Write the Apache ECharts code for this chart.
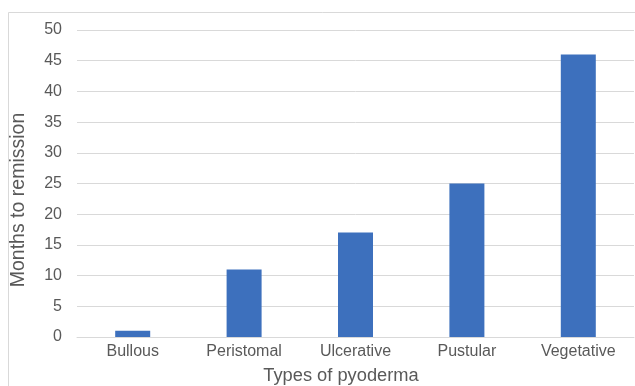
<!DOCTYPE html>
<html>
<head>
<meta charset="utf-8">
<script src="https://cdn.jsdelivr.net/npm/echarts@6/dist/echarts.min.js"></script>
<style>
  html, body { margin: 0; padding: 0; background: #fff; }
  #chart { width: 635px; height: 386px; }
</style>
</head>
<body>
<div id="chart"></div>
<script>
// Pyoderma gangrenosum subtypes and months until remission
const categories = ['Bullous', 'Peristomal', 'Ulcerative', 'Pustular', 'Vegetative'];
const monthsToRemission = [1, 11, 17, 25, 46];
const yTicks = { min: 0, max: 50, interval: 5 };
const xTitle = 'Types of pyoderma';
const yTitle = 'Months to remission';

const chart = echarts.init(document.getElementById('chart'), null, { renderer: 'canvas' });
const textColor = '#595959';
const font = 'Liberation Sans, Arial, sans-serif';

chart.setOption({
  animation: false,
  backgroundColor: '#fff',
  graphic: [
    {
      type: 'rect',
      shape: { x: 8.5, y: 12.5, width: 640, height: 400 },
      style: { fill: 'none', stroke: '#d9d9d9', lineWidth: 1 },
      silent: true
    },
    {
      type: 'text',
      x: 19, y: 200,
      rotation: Math.PI / 2,
      style: {
        text: yTitle, fill: textColor, fontSize: 19.5, fontFamily: font,
        textAlign: 'center', textVerticalAlign: 'middle'
      },
      silent: true
    },
    {
      type: 'text',
      x: 341, y: 376,
      style: {
        text: xTitle, fill: textColor, fontSize: 18.3, fontFamily: font,
        textAlign: 'center', textVerticalAlign: 'middle'
      },
      silent: true
    }
  ],
  grid: { left: 77, right: 1, top: 30, bottom: 49, outerBoundsMode: 'none', containLabel: false },
  xAxis: {
    type: 'category',
    data: categories,
    axisLine: { show: true, lineStyle: { color: '#d9d9d9', width: 1 } },
    axisTick: { show: false },
    axisLabel: { color: textColor, fontSize: 16, fontFamily: font, margin: 7 }
  },
  yAxis: {
    type: 'value',
    min: yTicks.min,
    max: yTicks.max,
    interval: yTicks.interval,
    axisLine: { show: false },
    axisTick: { show: false },
    axisLabel: { color: textColor, fontSize: 16, fontFamily: font, margin: 15 },
    splitLine: { lineStyle: { color: '#d9d9d9', width: 1 } }
  },
  series: [{
    type: 'bar',
    data: monthsToRemission,
    barWidth: 35,
    itemStyle: { color: '#3D70BD' }
  }]
});
</script>
</body>
</html>
